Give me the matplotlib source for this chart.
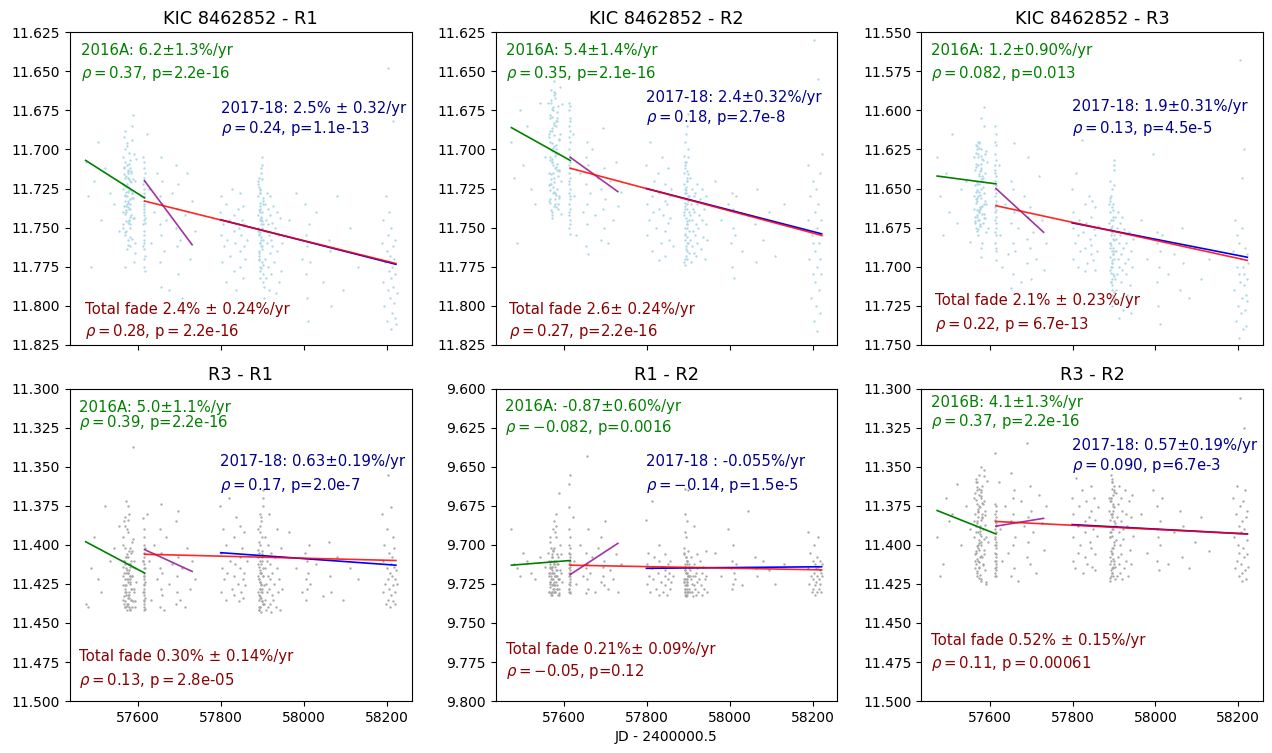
#
# KIC 8462852 and comparison stars: differential magnitudes vs time, with linear fade fits.
#

import numpy as np
import matplotlib
matplotlib.use('Agg')
from matplotlib import pyplot as plt
from matplotlib.ticker import MultipleLocator, FormatStrFormatter

# Observation times, JD - 2400000.5 (shared by all six light curves)
jd = [57473, 57479, 57486, 57494, 57502, 57510, 57520, 57531, 57542, 57553,
      # 2016A block
      57562, 57563, 57564, 57565, 57566, 57567, 57568, 57569, 57570, 57571,
      57572, 57573, 57574, 57575, 57576, 57577, 57578, 57579, 57580, 57581,
      57582, 57583, 57584, 57585, 57586, 57587, 57588, 57589, 57590, 57592,
      57563, 57564, 57565, 57566, 57567, 57568, 57569, 57570, 57571, 57572,
      57573, 57574, 57575, 57576, 57577, 57578, 57579, 57580, 57581, 57582,
      57566, 57567, 57568, 57569, 57570, 57571, 57572, 57573, 57574, 57575,
      57576, 57577, 57578, 57579, 57580, 57581, 57583, 57585, 57587, 57589,
      57564, 57566, 57568, 57570, 57572, 57574, 57576, 57578, 57580, 57582,
      57584, 57586, 57588, 57591, 57593, 57595, 57567, 57571, 57575, 57579,
      # single dense night
      57612, 57612, 57612, 57613, 57613, 57613, 57613, 57613, 57613, 57613,
      57613, 57613, 57614, 57614, 57614, 57614, 57614, 57614, 57614, 57614,
      57614, 57614, 57615, 57615, 57615, 57615, 57613, 57614, 57612, 57615,
      # late 2016
      57622, 57625, 57630, 57638, 57645, 57652, 57652, 57652, 57655, 57655,
      57655, 57658, 57658, 57662, 57668, 57675, 57682, 57690, 57690, 57693,
      57693, 57697, 57697, 57700, 57705, 57712, 57718, 57725, 57730, 57737,
      # early 2017
      57798, 57800, 57800, 57802, 57805, 57808, 57812, 57812, 57815, 57818,
      57822, 57826, 57830, 57830, 57830, 57833, 57836, 57840, 57843, 57845,
      57845, 57845, 57848, 57850, 57852, 57853, 57855, 57855, 57858, 57862,
      # mid 2017 dense block
      57889, 57890, 57891, 57892, 57893, 57894, 57895, 57896, 57897, 57898,
      57899, 57900, 57901, 57902, 57890, 57891, 57892, 57893, 57894, 57895,
      57896, 57897, 57898, 57899, 57900, 57901, 57889, 57890, 57891, 57892,
      57893, 57894, 57895, 57896, 57897, 57898, 57899, 57900, 57901, 57902,
      57890, 57891, 57892, 57893, 57894, 57895, 57896, 57897, 57898, 57899,
      57891, 57892, 57893, 57894, 57895, 57896, 57897, 57898, 57903, 57904,
      57905, 57906, 57907, 57908, 57909, 57910, 57911, 57912, 57913, 57914,
      57915, 57916, 57917, 57918, 57919, 57920, 57921, 57922, 57924, 57926,
      57928, 57930, 57932, 57934, 57936, 57938, 57940, 57942, 57944, 57946,
      # late 2017
      57965, 57980, 57995, 58003, 58005, 58005, 58007, 58008, 58010, 58012,
      58015, 58030, 58045, 58060, 58064, 58066, 58080, 58095, 58110, 58130,
      # 2018
      58188, 58190, 58192, 58194, 58196, 58198, 58200, 58201, 58202, 58203,
      58204, 58205, 58206, 58207, 58208, 58209, 58210, 58211, 58212, 58213,
      58214, 58215, 58216, 58217, 58218, 58219, 58220, 58221, 58222, 58224]

# Magnitudes in mmag relative to each panel's zero point (same order as jd)
r1_zero = 11.700
r1_mmag = [8, 30, 75, 20, -5, 45, 12, 28, 35, 52,
           5, 22, 40, 12, -8, 33, 55, 18, 27, 46,
           30, -2, 15, 61, 24, 38, 9, 50, 20, 35,
           42, 14, 28, -6, 57, 31, 19, 44, 3, 66,
           25, 48, 11, 36, 0, 29, 53, 17, 40, 22,
           -4, 34, 58, 13, 26, 45, 7, 38, 62, 21,
           16, 41, 30, -12, 52, 24, 35, 10, 47, 27,
           37, 2, 19, 56, 32, 43, 15, 28, -22, 72,
           50, 23, 8, 39, 64, 18, 33, 46, 12, 26,
           31, -15, 44, 20, 60, 6, 75, 36, 14, 48,
           5, 22, 48, 35, 60, 12, 42, 70, 28, 55,
           38, 18, 64, 45, 30, 75, 52, 8, 40, 25,
           58, 33, 68, 15, 47, 78, 36, 20, 62, 44,
           -10, 25, 60, 40, 15, 48, 72, 30, 55, 5,
           88, 35, 20, 65, 45, 90, 28, 50, 10, 62,
           38, 80, 22, 58, 95, 42, 15, 70, 33, 52,
           40, 55, 30, 72, 48, 62, 85, 35, 58, 45,
           68, 25, 52, 78, 42, 60, 90, 38, 50, 65,
           28, 75, 55, 45, 82, 36, 62, 48, 70, 58,
           30, 52, 18, 65, 40, 75, 25, 58, 45, 10,
           62, 35, 80, 48, 22, 55, 70, 38, 28, 60,
           44, 15, 72, 50, 33, 85, 42, 20, 66, 54,
           36, 78, 26, 48, 62, 5, 40, 58, 74, 31,
           50, 68, 24, 45, 82, 34, 56, 12, 64, 46,
           39, 71, 28, 53, 60, 43, 76, 19, 95, 88,
           52, 35, 70, 45, 82, 28, 60, 48, 75, 38,
           55, 90, 42, 66, 30, 58, 80, 47, 62, 36,
           72, 50, 92, 40, 65, 55, 85, 44, 78, 60,
           45, 28, 70, 35, 55, 80, 62, 95, 110, 48,
           72, 40, 85, 58, 65, 100, 30, 90, 50, 75,
           60, 85, 45, 100, 72, 30, 110, 65, 90, 55,
           -52, 78, 40, 95, 68, 115, 82, 50, 105, 75,
           -18, 62, 88, 70, 98, 58, 108, 80, 112, 92]

r2_zero = 11.700
r2_mmag = [-5, 18, 60, -25, 10, -15, 25, 35, -30, 5,
           -30, -8, 15, -20, 32, 5, -38, 22, -12, 40,
           8, -25, 28, -2, 18, -35, 12, 35, -15, 0,
           25, -18, 3, 38, -28, 14, -6, 30, -40, 20,
           -10, 33, -22, 7, 26, -32, 16, -4, 42, -14,
           10, -27, 36, -9, 21, -36, 2, 29, -18, 13,
           34, -5, 19, -30, 8, 44, -21, 24, -1, -44,
           -16, 27, 4, -33, 37, 11, -24, 17, -7, 31,
           23, -12, 39, -26, 6, 15, -37, 28, -3, 9,
           -20, 35, 13, -10, 41, -29, 22, 1, -17, 32,
           -25, 10, 35, -8, 50, 20, -15, 42, 0, 28,
           15, -30, 38, 5, 54, -12, 25, 45, -20, 12,
           32, -5, 48, 18, -28, 8, 40, -18, 22, 30,
           -10, 30, 55, 15, 40, 5, 62, 22, 35, -5,
           48, 10, 67, 28, 0, 42, 18, 58, 25, 38,
           -14, 50, 12, 32, 60, 20, 45, 8, 36, 27,
           10, 35, 55, 25, 45, -5, 65, 30, 40, 20,
           50, 15, 71, 38, 28, 60, 5, 42, 33, 52,
           22, 68, 35, 47, 12, 58, 30, 44, 25, 62,
           15, 40, -5, 55, 25, 68, 8, 35, 50, 20,
           60, 0, 45, 30, 72, 12, 38, 58, -10, 28,
           48, 18, 65, 33, 5, 52, 42, 22, 70, 10,
           36, 62, 26, 46, -15, 56, 30, 16, 66, 40,
           4, 50, 34, 74, 24, 44, 14, 60, 38, -23,
           28, 54, 8, 64, 32, 48, 20, 70, 42, 18,
           58, 35, 72, 45, 25, 62, 38, 52, 30, 66,
           40, 55, 28, 68, 48, 35, 60, 22, 50, 42,
           32, 64, 45, 25, 56, 38, 70, 48, 30, 58,
           20, 45, 35, 60, 28, 75, 50, 38, 82, 55,
           30, 65, 42, 48, 72, 25, 58, 40, 68, 35,
           10, 45, 70, 30, 95, 55, 20, 80, 60, 110,
           -70, 40, 85, 65, 25, 100, 50, 75, 116, 35,
           -45, 60, 90, 15, 70, 105, 45, 80, 55, 3]

r3_zero = 11.650
r3_mmag = [-20, 5, 30, -10, 15, -35, 22, 0, -5, 34,
           -20, 5, 18, -12, 25, -28, 8, -3, 14, -22,
           20, -8, 2, -30, 12, 24, -16, 6, -25, 16,
           -5, 22, -18, 10, -52, 3, 19, -10, 28, -24,
           13, -2, 21, -14, 7, -27, 17, 1, -20, 26,
           -9, 15, -26, 4, 23, -12, 44, -6, 11, -19,
           9, -23, 18, -4, 27, -15, 5, 14, -29, 20,
           -11, 24, 0, -21, 12, 35, -7, 16, -40, 8,
           22, -16, 6, -25, 30, -3, 13, -13, 38, -8,
           -1, 19, -22, 10, -17, 25, 2, -30, 15, -45,
           -30, 5, 20, -12, 35, -5, 12, -40, 28, 0,
           15, -22, 40, 8, -18, 30, -8, 46, 18, -28,
           22, -2, 10, -35, 38, 3, -15, 25, -10, 14,
           -15, 30, 50, 10, 42, -5, 64, 22, 35, 0,
           55, 15, -29, 40, 25, 60, 5, 32, 48, 18,
           -20, 38, 12, 58, 28, 45, -8, 20, 52, 35,
           0, 25, 45, 15, 35, -10, 50, 30, 20, 40,
           -31, 28, 53, 10, 38, 22, 48, 5, 32, 42,
           18, 36, 8, 46, 26, 52, 12, 30, 40, 24,
           10, 35, -5, 50, 25, 65, 0, 40, 55, 20,
           45, -12, 30, 70, 15, 38, 60, 5, 48, 28,
           58, 18, 42, -15, 33, 66, 22, 52, 8, 36,
           26, 62, 12, 46, 32, 72, -2, 40, 56, 18,
           44, 6, 54, 30, 68, 24, 50, 14, 38, -18,
           35, 60, 20, 48, 28, 75, 10, 42, 58, 32,
           40, 65, 25, 55, 15, 45, 83, 35, 50, 22,
           30, 70, 42, 60, 18, 52, 38, 78, 26, 48,
           55, 35, 68, 45, 28, 62, 40, 80, 50, 32,
           20, 45, -22, 35, 60, 28, 75, 50, 40, 87,
           30, 55, 42, 65, 25, 48, 70, 38, 58, 45,
           40, 65, 20, 85, 50, 30, 75, 55, 96, 35,
           -82, 60, 45, 80, -7, 70, 25, 90, 50, 62,
           -25, 55, 78, 38, 68, 88, 42, 58, 72, 48]

r31_zero = 11.400
r31_mmag = [38, 40, 15, -5, 22, 30, -25, 10, 2, -12,
            -5, 20, 35, 10, -15, 28, 40, 2, 15, 32,
            22, -10, 8, 38, 18, -20, 30, 12, 25, 42,
            5, 35, -2, 20, 40, 14, -63, 28, 10, 36,
            26, 0, 18, 33, -12, 22, 40, 8, 30, 16,
            38, 12, 24, -8, 34, 4, 20, 41, 14, 28,
            10, 30, -18, 36, 18, 26, 6, 39, 22, -25,
            32, 16, 40, 2, 24, 12, 35, 20, -4, 30,
            14, 38, 26, 8, 42, 18, -16, 32, 22, 10,
            28, 4, 36, 15, 40, 24, 12, -28, 34, 20,
            -17, 10, 30, 20, 42, 5, 25, 38, -5, 15,
            35, 28, 0, 40, 18, 12, 32, -10, 22, 36,
            8, 26, 41, 15, 2, 34, 20, 30, 10, 24,
            -20, 10, 35, 0, 22, -10, 40, 15, 28, -26,
            5, 32, 18, 42, -5, 25, 12, 38, -15, 20,
            30, 8, -22, 35, 15, 40, 2, 28, 10, 22,
            -25, 5, 30, 15, -10, 22, 35, 0, 18, -30,
            10, 28, -5, 32, 20, 12, -18, 25, 36, 8,
            15, -12, 30, 2, 22, 34, -8, 18, 26, 10,
            -10, 20, 35, 5, 28, -20, 40, 12, 25, -5,
            30, 15, -30, 38, 8, 22, 42, 0, 18, 33,
            -15, 26, 10, 36, 20, -25, 30, 3, 40, 14,
            24, -8, 34, 18, 43, 6, 28, -35, 20, 38,
            12, 32, -2, 24, 40, 16, -18, 30, 8, 36,
            22, 42, 10, 28, -12, 34, 18, 4, 38, 26,
            15, 35, -5, 25, 42, 10, 30, 20, 40, 0,
            -20, 28, 38, 12, 22, 43, 5, 32, 18, 35,
            25, 8, 40, 15, -10, 30, 22, 42, 2, 28,
            -8, 15, 30, 5, 22, 35, 10, 28, 18, 0,
            25, 12, 33, -2, 20, 30, 8, 35, 15, 22,
            -20, 10, 30, 0, 25, 38, 15, -10, 22, 35,
            -45, 5, 28, 40, 18, -24, 32, 12, 20, 8,
            -5, 26, 36, 14, 2, 30, 22, 38, 16, 25]

r12_zero = 9.700
r12_mmag = [-10, 12, 15, 20, 5, 10, 18, 22, 8, 14,
            5, 20, 30, 12, -5, 25, 15, 32, 8, 22,
            18, -10, 28, 10, 2, 24, 30, 14, 20, -20,
            26, 6, 16, 32, 12, -33, 22, 28, 0, 18,
            10, 30, 24, -2, 14, 20, 31, 8, 26, 16,
            22, 4, 28, 12, 18, -8, 30, 24, 10, 20,
            15, 27, 2, 22, 32, 14, 6, 25, 18, -15,
            30, 12, 20, 26, -5, 16, 28, 8, 22, 32,
            18, 24, 10, 30, 14, 3, 26, 20, -12, 28,
            12, 22, 31, 16, 6, 24, 18, 30, 10, 20,
            -24, 10, 25, 0, 30, 15, -39, 20, 5, 28,
            12, -10, 22, 31, 8, 18, -45, 26, 14, 2,
            24, 16, -5, 30, 10, 20, 28, 6, 18, 12,
            -18, 10, 25, 0, 20, 31, 5, 15, -57, 22,
            12, 28, -10, 18, 8, 30, 2, 24, -5, 14,
            20, 26, 10, -15, 28, 16, 22, 6, 30, 12,
            -16, 12, 25, 5, 20, 30, -28, 15, 22, 8,
            28, 18, 0, 32, 10, 24, 14, 30, 20, 6,
            26, 16, 32, 12, 22, 18, 28, 10, 24, 20,
            5, 22, 30, 12, -8, 26, 18, 32, 10, 24,
            -35, 20, 28, 15, 2, 30, 22, 14, 33, 8,
            18, 26, -15, 20, 30, 12, 24, 6, 28, 16,
            -36, 22, 32, 10, 18, 26, 4, 30, 20, 14,
            24, -20, 28, 16, 33, 8, 22, 30, 12, 20,
            26, 14, 32, 18, -5, 24, 10, 28, 20, 30,
            16, 22, 8, 30, 25, 14, 33, 20, -12, 26,
            12, 28, 20, 32, 18, 6, 24, 15, 30, 22,
            10, 26, 18, 32, 14, 28, 22, 4, 20, 30,
            5, 20, -10, 15, 28, 10, 25, 0, 18, 22,
            12, 26, -22, 8, 15, 20, 10, 16, 25, 12,
            -8, 15, 25, 5, 20, 30, 10, 22, 28, 0,
            18, 26, 12, 32, 15, 24, 8, 20, 30, 14,
            -5, 22, 28, 16, 10, 25, 18, 30, 12, 20]

r32_zero = 11.400
r32_mmag = [-5, 20, 12, -30, -15, -20, -39, 0, -25, -10,
            -30, -5, 10, -20, -40, 5, -15, 18, -35, -8,
            0, -25, 15, -45, -12, 8, -30, 22, -2, -18,
            -38, 12, -10, -28, 3, -48, 16, -22, -5, 25,
            -15, -33, 6, -8, -42, 20, -26, 1, -18, 10,
            -36, -3, 14, -24, -11, 23, -50, -6, 8, -20,
            4, -29, 17, -14, -40, 2, -22, 11, -32, -1,
            -9, 19, -35, -16, 7, -27, 13, -44, -4, -19,
            15, -12, -37, 9, -23, 21, -7, -31, 0, -17,
            -26, 6, -13, 24, -41, -2, 12, -21, 3, -34,
            -20, 0, 15, -10, 20, -26, 5, -15, 10, -59,
            -5, 18, -22, 8, -12, 14, -2, -18, 12, -8,
            2, 16, -25, 6, -14, 20, -4, 10, -16, 0,
            -40, -10, 10, -25, 5, -46, -15, 20, -30, 0,
            -20, 15, -35, -5, 23, -28, -12, 8, -65, -18,
            -2, -38, 12, -22, -8, 18, -32, -14, 3, -25,
            -30, -5, 10, -20, 15, -43, -12, 5, -25, 0,
            -35, 18, -15, -8, 8, -28, 12, -18, -2, -38,
            2, -22, 14, -10, -30, 6, -16, 16, -6, -24,
            -30, -5, 12, -20, 20, -40, -10, 5, -25, 15,
            -35, 0, -15, 22, -28, 8, -45, -8, 18, -20,
            2, -32, 14, -12, -38, 10, -22, 23, -5, -30,
            16, -18, -42, 6, -26, 20, -2, -34, 12, -14,
            -8, 21, -30, 4, -20, 15, -36, -10, 9, -24,
            -16, 10, -28, 18, -6, -40, 2, -22, 14, -12,
            -3, -33, 20, -18, 8, -26, 12, -8, -38, 0,
            18, -15, -30, 6, -22, 22, -10, -4, 15, -35,
            -20, 10, -12, 20, -28, 3, -18, 12, -32, -6,
            -20, 5, -35, -10, 10, -25, -5, 16, -15, 0,
            -30, 12, -8, -22, 8, -12, 15, -2, -18, 4,
            -30, -5, 15, -20, 10, -38, 0, 20, -12, 5,
            -94, -25, 12, -8, 23, -15, 18, -28, 2, -10,
            -75, 8, -35, 16, -18, 22, -3, -22, 6, 14]

# Linear fits: (start mag, end mag) over each fit's JD span
green_span = (57473, 57615)
purple_span = (57615, 57730)
red_span = (57615, 58222)
blue_span = (57799, 58222)
green_fit = [(11.707, 11.731), (11.686, 11.707), (11.642, 11.647),
             (11.398, 11.418), (9.713, 9.710), (11.378, 11.393)]
purple_fit = [(11.720, 11.761), (11.705, 11.727), (11.650, 11.678),
              (11.403, 11.417), (9.719, 9.699), (11.388, 11.383)]
red_fit = [(11.733, 11.773), (11.712, 11.755), (11.661, 11.696),
           (11.406, 11.410), (9.713, 9.716), (11.385, 11.393)]
blue_fit = [(11.745, 11.7735), (11.725, 11.754), (11.672, 11.694),
            (11.405, 11.413), (9.715, 9.714), (11.387, 11.393)]

titles = ['KIC 8462852 - R1', 'KIC 8462852 - R2', 'KIC 8462852 - R3',
          'R3 - R1', 'R1 - R2', 'R3 - R2']
ylims = [(11.825, 11.625), (11.825, 11.625), (11.75, 11.55),
         (11.5, 11.3), (9.8, 9.6), (11.5, 11.3)]

green_txt = [('2016A: 6.2\u00b11.3%/yr', r'$\rho=0.37$, p=2.2e-16'),
             ('2016A: 5.4\u00b11.4%/yr', r'$\rho=0.35$, p=2.1e-16'),
             ('2016A: 1.2\u00b10.90%/yr', r'$\rho=0.082$, p=0.013'),
             ('2016A: 5.0\u00b11.1%/yr', r'$\rho=0.39$, p=2.2e-16'),
             ('2016A: -0.87\u00b10.60%/yr', r'$\rho=-0.082$, p=0.0016'),
             ('2016B: 4.1\u00b11.3%/yr', r'$\rho=0.37$, p=2.2e-16')]
blue_txt = [('2017-18: 2.5% \u00b1 0.32/yr', r'$\rho=0.24$, p=1.1e-13'),
            ('2017-18: 2.4\u00b10.32%/yr', r'$\rho=0.18$, p=2.7e-8'),
            ('2017-18: 1.9\u00b10.31%/yr', r'$\rho=0.13$, p=4.5e-5'),
            ('2017-18: 0.63\u00b10.19%/yr', r'$\rho=0.17$, p=2.0e-7'),
            ('2017-18 : -0.055%/yr', r'$\rho=-0.14$, p=1.5e-5'),
            ('2017-18: 0.57\u00b10.19%/yr', r'$\rho=0.090$, p=6.7e-3')]
red_txt = [('Total fade 2.4% \u00b1 0.24%/yr', r'$\rho=0.28$, p$=$2.2e-16'),
           ('Total fade 2.6\u00b1 0.24%/yr', r'$\rho=0.27$, p=2.2e-16'),
           ('Total fade 2.1% \u00b1 0.23%/yr', r'$\rho=0.22$, p$=$6.7e-13'),
           ('Total fade 0.30% \u00b1 0.14%/yr', r'$\rho=0.13$, p$=$2.8e-05'),
           ('Total fade 0.21%\u00b1 0.09%/yr', r'$\rho=-0.05$, p=0.12'),
           ('Total fade 0.52% \u00b1 0.15%/yr', r'$\rho=0.11$, p$=$0.00061')]

# text placement in axes fraction: (x, y line 1, y line 2)
green_pos = [(0.032, 0.943, 0.868), (0.029, 0.943, 0.868), (0.029, 0.943, 0.868),
             (0.027, 0.941, 0.891), (0.027, 0.943, 0.876), (0.027, 0.957, 0.894)]
blue_pos = [(0.443, 0.756, 0.693), (0.44, 0.793, 0.727), (0.44, 0.763, 0.693),
            (0.44, 0.767, 0.689), (0.44, 0.767, 0.689), (0.44, 0.817, 0.755)]
red_pos = [(0.044, 0.113, 0.043), (0.039, 0.113, 0.043), (0.041, 0.141, 0.066),
           (0.027, 0.144, 0.065), (0.029, 0.165, 0.094), (0.027, 0.195, 0.120)]

mags = [(r1_zero, r1_mmag), (r2_zero, r2_mmag), (r3_zero, r3_mmag),
        (r31_zero, r31_mmag), (r12_zero, r12_mmag), (r32_zero, r32_mmag)]

fig, axs = plt.subplots(2, 3, figsize=(12.72, 7.53), dpi=100, sharex=True)
fig.subplots_adjust(left=0.055, right=0.993, top=0.957, bottom=0.069,
                    wspace=0.246, hspace=0.141)

jd = np.array(jd)
for i, ax in enumerate(axs.flat):
    zero, mm = mags[i]
    m = zero + np.array(mm) / 1000.0
    pcol = 'lightblue' if i < 3 else 'darkgrey'
    ax.plot(jd, m, '.', color=pcol, ms=3.4, mew=0)
    ax.plot(green_span, green_fit[i], color='green', lw=1.2)
    ax.plot(purple_span, purple_fit[i], color='darkmagenta', lw=1.2, alpha=0.8)
    ax.plot(blue_span, blue_fit[i], color='blue', lw=1.2)
    ax.plot(red_span, red_fit[i], color='red', lw=1.2, alpha=0.85)

    for txt, pos, col in ((green_txt[i], green_pos[i], 'green'),
                          (blue_txt[i], blue_pos[i], 'darkblue'),
                          (red_txt[i], red_pos[i], 'darkred')):
        ax.text(pos[0], pos[1], txt[0], transform=ax.transAxes, color=col,
                fontsize=10.7, va='center', ha='left')
        ax.text(pos[0], pos[2], txt[1], transform=ax.transAxes, color=col,
                fontsize=10.7, va='center', ha='left')

    ax.set_title(titles[i], fontsize=12.8)
    ax.set_ylim(ylims[i])
    ax.yaxis.set_major_locator(MultipleLocator(0.025))
    ax.yaxis.set_major_formatter(FormatStrFormatter('%.3f'))
    ax.xaxis.set_major_locator(MultipleLocator(200))

axs[0, 0].set_xlim(57435, 58260)
axs[1, 1].set_xlabel('JD - 2400000.5')

plt.savefig('out.png', dpi=100)
